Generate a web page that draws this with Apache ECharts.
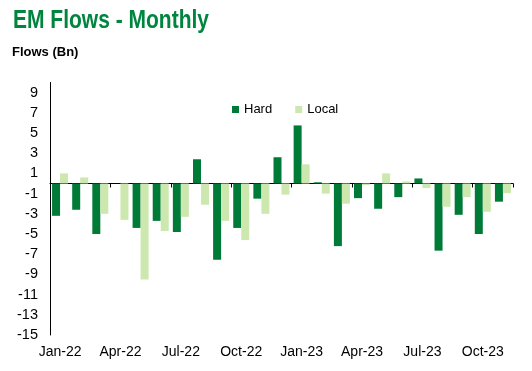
<!DOCTYPE html>
<html>
<head>
<meta charset="utf-8">
<script src="https://cdn.jsdelivr.net/npm/echarts@6/dist/echarts.min.js"></script>
<style>
html,body{margin:0;padding:0;background:#fff;}
#chart{width:532px;height:371px;}
</style>
</head>
<body>
<div id="chart"></div>
<script>
const categories = ['Jan-22','Feb-22','Mar-22','Apr-22','May-22','Jun-22','Jul-22','Aug-22','Sep-22','Oct-22','Nov-22','Dec-22',
  'Jan-23','Feb-23','Mar-23','Apr-23','May-23','Jun-23','Jul-23','Aug-23','Sep-23','Oct-23','Nov-23'];
const hardValues = [-3.2, -2.6, -5.0, 0, -4.4, -3.7, -4.8, 2.4, -7.55, -4.4, -1.5, 2.6,
  5.75, 0.12, -6.2, -1.45, -2.5, -1.35, 0.5, -6.65, -3.1, -5.0, -1.8];
const localValues = [1.0, 0.6, -3.0, -3.6, -9.5, -4.7, -3.3, -2.1, -3.7, -5.6, -3.0, -1.1,
  1.9, -1.0, -2.0, -0.15, 1.0, 0.2, -0.45, -2.3, -1.35, -2.8, -0.95];
const yTicks = [-15,-13,-11,-9,-7,-5,-3,-1,1,3,5,7,9];

const font = 'Arial, "Liberation Sans", sans-serif';
const chart = echarts.init(document.getElementById('chart'), null, {renderer:'canvas'});
chart.setOption({
  animation: false,
  backgroundColor: '#fff',
  title: [
    {text: 'Flows (Bn)', left: 12, top: 46, padding: 0,
     textStyle: {fontFamily: font, fontWeight: 'bold', fontSize: 13, color: '#000'}}
  ],
  graphic: [
    {type: 'text', x: 13, y: 9, scaleX: 0.84, scaleY: 1,
     style: {text: 'EM Flows - Monthly', font: 'bold 25px Arial, "Liberation Sans", sans-serif',
             fill: '#00853F', textVerticalAlign: 'top'}}
  ],
  legend: {
    data: ['Hard','Local'],
    left: 232, top: 103, padding: 0,
    itemWidth: 7, itemHeight: 7, itemGap: 23,
    icon: 'rect',
    textStyle: {fontFamily: font, fontSize: 13, color: '#000'}
  },
  grid: {left: 50, right: 19, top: 82.5, bottom: 36, containLabel: false},
  xAxis: [
    {type: 'category', data: categories, boundaryGap: true,
     axisLine: {onZero: true, lineStyle: {color: '#000', width: 1}},
     axisTick: {show: true, interval: 2, length: 4, lineStyle: {color: '#000'}},
     axisLabel: {show: false}, splitLine: {show: false}},
    {type: 'category', data: categories, position: 'bottom', boundaryGap: true,
     axisLine: {show: false, onZero: false}, axisTick: {show: false},
     axisLabel: {show: true, interval: 2, margin: 10, fontFamily: font, fontSize: 14, color: '#000'},
     splitLine: {show: false}}
  ],
  yAxis: {
    type: 'value', min: -15, max: 10, interval: 2,
    axisLine: {show: true, lineStyle: {color: '#000', width: 1}},
    axisTick: {show: false},
    splitLine: {show: false},
    axisLabel: {
      showMaxLabel: false, margin: 12, fontFamily: font, fontSize: 14.5, color: '#000',
      formatter: v => (yTicks.indexOf(v) >= 0 ? String(v) : '')
    }
  },
  series: [
    {name: 'Hard', type: 'bar', xAxisIndex: 0, data: hardValues, barWidth: 8, barGap: '0%',
     itemStyle: {color: '#007A37'}},
    {name: 'Local', type: 'bar', xAxisIndex: 0, data: localValues, barWidth: 8, barGap: '0%',
     itemStyle: {color: '#CCE8AE'}}
  ]
});
</script>
</body>
</html>
